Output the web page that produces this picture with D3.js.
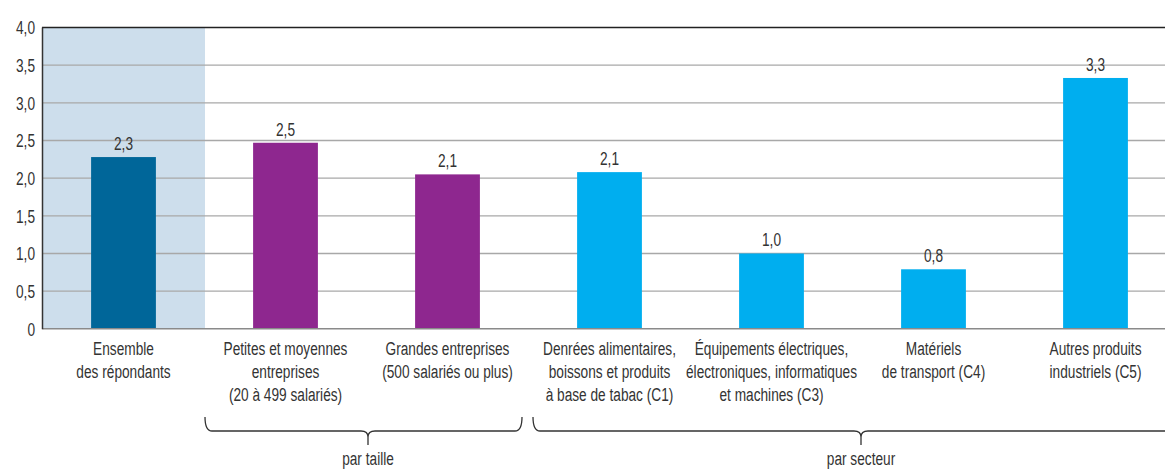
<!DOCTYPE html>
<html>
<head>
<meta charset="utf-8">
<script src="https://cdn.jsdelivr.net/npm/d3@7"></script>
<style>
  html, body { margin: 0; padding: 0; background: #fff; }
  svg { display: block; }
  text { font-family: "Liberation Sans", Arial, sans-serif; fill: #333; }
</style>
</head>
<body>
<svg id="chart" width="1165" height="470"></svg>
<script>
const categories = [
  "Ensemble\ndes répondants",
  "Petites et moyennes\nentreprises\n(20 à 499 salariés)",
  "Grandes entreprises\n(500 salariés ou plus)",
  "Denrées alimentaires,\nboissons et produits\nà base de tabac (C1)",
  "Équipements électriques,\nélectroniques, informatiques\net machines (C3)",
  "Matériels\nde transport (C4)",
  "Autres produits\nindustriels (C5)"
];
const values = [2.28, 2.47, 2.05, 2.08, 1.0, 0.79, 3.33];
const valueLabels = ["2,3", "2,5", "2,1", "2,1", "1,0", "0,8", "3,3"];
const groups = ["ensemble", "taille", "taille", "secteur", "secteur", "secteur", "secteur"];
const yTicks = [0, 0.5, 1, 1.5, 2, 2.5, 3, 3.5, 4];
const yTickLabels = ["0", "0,5", "1,0", "1,5", "2,0", "2,5", "3,0", "3,5", "4,0"];
const braceGroups = [
  { label: "par taille", from: 1, to: 2 },
  { label: "par secteur", from: 3, to: 6 }
];

(function () {
const colors = { ensemble: "#006699", taille: "#8e278f", secteur: "#00aeef" };
const FS = 19, SX = 0.72;
const tr = (px, py) => `translate(${px},${py}) scale(${SX},1)`;

const svg = d3.select("#chart");
const mLeft = 42.5, mTop = 27.5, mBottom = 328.8, step = 162;
const x = d3.scaleBand().domain(d3.range(categories.length))
  .range([mLeft, mLeft + step * categories.length]).paddingInner(0.6).paddingOuter(0.3);
const y = d3.scaleLinear().domain([0, 4]).range([mBottom, mTop]);

// shaded band for the first category
svg.append("rect")
  .attr("x", mLeft).attr("y", y(4))
  .attr("width", 205 - mLeft)
  .attr("height", y(0) - y(4))
  .attr("fill", "#cddeec");

// gridlines
svg.append("g").selectAll("line").data(yTicks.filter(d => d > 0 && d < 4)).join("line")
  .attr("x1", mLeft).attr("x2", 1165)
  .attr("y1", d => y(d)).attr("y2", d => y(d))
  .attr("stroke", "#a8a8a8").attr("stroke-width", 1.3);

// bars
svg.append("g").selectAll("rect").data(values).join("rect")
  .attr("x", (d, i) => x(i)).attr("width", x.bandwidth())
  .attr("y", d => y(d)).attr("height", d => y(0) - y(d))
  .attr("fill", (d, i) => colors[groups[i]]);

// zero line
svg.append("line").attr("x1", mLeft).attr("x2", 1165)
  .attr("y1", y(0)).attr("y2", y(0))
  .attr("stroke", "#8a8a8a").attr("stroke-width", 1.5);

// top line
svg.append("line").attr("x1", mLeft - 0.5).attr("x2", 1165)
  .attr("y1", y(4)).attr("y2", y(4))
  .attr("stroke", "#222").attr("stroke-width", 1.6);

// left axis
svg.append("line").attr("x1", mLeft).attr("x2", mLeft)
  .attr("y1", y(4)).attr("y2", y(0) + 0.5)
  .attr("stroke", "#333").attr("stroke-width", 1.5);

// y tick labels
svg.append("g").selectAll("text").data(yTicks).join("text")
  .attr("transform", d => tr(35, y(d))).attr("dy", "0.36em")
  .attr("text-anchor", "end").attr("font-size", FS)
  .text((d, i) => yTickLabels[i]);

// value labels
svg.append("g").selectAll("text").data(values).join("text")
  .attr("transform", (d, i) => tr(x(i) + x.bandwidth() / 2, y(d) - 7))
  .attr("text-anchor", "middle").attr("font-size", FS)
  .text((d, i) => valueLabels[i]);

// category labels
const cat = svg.append("g").selectAll("text").data(categories).join("text")
  .attr("text-anchor", "middle").attr("font-size", FS)
  .attr("transform", (d, i) => tr(x(i) + x.bandwidth() / 2, 355));
cat.selectAll("tspan").data(d => d.split("\n")).join("tspan")
  .attr("x", 0).attr("y", (d, j) => j * 23).text(d => d);

// braces
const braceY = 431, braceTop = 417, tipY = 445;
braceGroups.forEach((g, gi) => {
  const x0 = gi === 0 ? 205 : 533;
  const x1 = gi === 0 ? 522 : 1200;
  const xc = gi === 0 ? 368 : 861;
  const r = 7;
  const path = `M${x0},${braceTop} Q${x0},${braceY} ${x0 + r},${braceY} L${xc - r},${braceY} Q${xc},${braceY} ${xc},${braceY + 6} L${xc},${tipY} M${xc},${braceY + 6} Q${xc},${braceY} ${xc + r},${braceY} L${x1 - r},${braceY} Q${x1},${braceY} ${x1},${braceTop}`;
  svg.append("path").attr("d", path).attr("fill", "none")
    .attr("stroke", "#333").attr("stroke-width", 1.3);
  svg.append("text").attr("transform", tr(xc, 465))
    .attr("text-anchor", "middle").attr("font-size", FS).text(g.label);
});
})();
</script>
</body>
</html>
